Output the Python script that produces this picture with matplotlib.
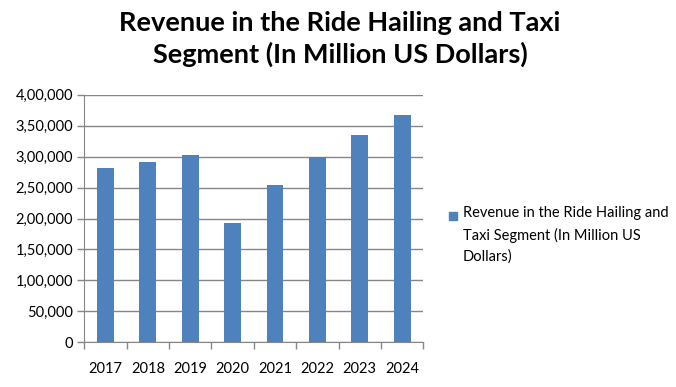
import matplotlib
matplotlib.use("Agg")
import matplotlib.pyplot as plt
from matplotlib.ticker import FuncFormatter, FixedLocator
from matplotlib.patches import Rectangle

years = ["2017", "2018", "2019", "2020", "2021", "2022", "2023", "2024"]
revenue = [281500, 291300, 302600, 192700, 254100, 299900, 334900, 367200]
series_name = "Revenue in the Ride Hailing and\nTaxi Segment (In Million US\nDollars)"
title = "Revenue in the Ride Hailing and Taxi\nSegment (In Million US Dollars)"

plt.rcParams['font.family'] = ['Lato', 'DejaVu Sans']

W, H = 676, 387
fig = plt.figure(figsize=(W / 100, H / 100), dpi=100)
left, right, top, bottom = 84.3, 423.3, 94.7, 342.3
ax = fig.add_axes([left / W, 1 - bottom / H, (right - left) / W, (bottom - top) / H])

x = range(len(years))
ax.bar(x, revenue, width=0.4, color="#4F81BD", zorder=3)
ax.set_xlim(-0.5, len(years) - 0.5)
ax.set_ylim(0, 400000)
ax.set_yticks(range(0, 400001, 50000))

def indian(v, pos):
    v = int(round(v))
    if v == 0:
        return "0"
    s = str(v)
    last3 = s[-3:]
    rest = s[:-3]
    parts = []
    while len(rest) > 2:
        parts.insert(0, rest[-2:])
        rest = rest[:-2]
    if rest:
        parts.insert(0, rest)
    return ",".join(parts + [last3])

ax.yaxis.set_major_formatter(FuncFormatter(indian))
ax.set_xticks(list(x))
ax.set_xticklabels(years)
ax.xaxis.set_minor_locator(FixedLocator([i - 0.5 for i in range(len(years) + 1)]))
ax.tick_params(axis='x', which='major', length=0, pad=14, labelsize=10.5, colors='black')
ax.tick_params(axis='x', which='minor', length=5, color='#868686', width=1)
ax.tick_params(axis='y', length=5, color='#868686', width=1, labelsize=10.5, pad=3)
for lab in ax.get_yticklabels() + ax.get_xticklabels():
    lab.set_color("black")

ax.grid(axis='y', color='#868686', linewidth=1, zorder=0)
for s in ['top', 'right']:
    ax.spines[s].set_visible(False)
ax.spines['left'].set_color('#868686')
ax.spines['bottom'].set_color('#868686')
ax.set_axisbelow(True)

fig.text(340 / W, 1 - 39 / H, title, ha='center', va='center', fontsize=19.5,
         fontweight='bold', linespacing=1.3)

# legend
fig.patches.append(Rectangle((449 / W, 1 - 220 / H), 8 / W, 8 / H,
                             transform=fig.transFigure, color="#4F81BD"))
fig.text(463 / W, 1 - 206 / H, series_name, ha='left', va='top', fontsize=10.5,
         linespacing=1.62)

fig.savefig("out.png", dpi=100, facecolor="white")
